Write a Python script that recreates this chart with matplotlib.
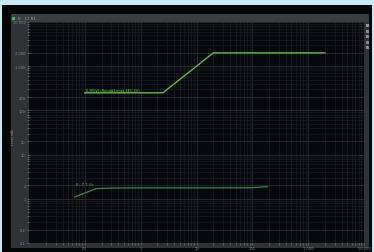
import matplotlib
matplotlib.use("Agg")
import matplotlib.pyplot as plt
from matplotlib.patches import Rectangle

# Data
freq_a = [0.1, 2.5, 20, 2000]
mag_a = [250, 250, 2000, 2000]
label_a = "0.8(kV) (Renda Lenta EEC Ch)"

freq_b = [0.066, 0.16, 0.3, 1, 10, 100, 150, 185]
mag_b = [1.1, 1.7, 1.75, 1.77, 1.77, 1.78, 1.85, 1.88]
label_b = "B - 0.1 Hz"

x_ticks = [0.1, 1, 10, 100, 1000, 10000]
x_labels = ["0.1", "1", "10", "100", "1 000", "10 000"]
y_ticks = [0.1, 0.2, 1, 2, 10, 20, 100, 200, 1000, 2000, 10000]
y_labels = ["0.1", "0.2", "1", "2", "10", "20", "100", "200", "1 000", "2 000", "10 000"]

W, H = 374, 253
fig = plt.figure(figsize=(W / 100, H / 100), dpi=100)
fig.patch.set_facecolor("#c6e9f6")

def box(x, y, w, h, color):
    # rectangle in pixel coords, y from top
    fig.patches.append(Rectangle((x / W, 1 - (y + h) / H), w / W, h / H,
                                 transform=fig.transFigure, color=color,
                                 zorder=-5, linewidth=0))

box(2, 6, 370, 247, "#050505")   # window frame
box(11, 15, 358, 234, "#2f3335")  # panel
box(11, 15, 358, 8, "#3a3e40")    # title bar
box(12, 17.5, 3, 3, "#3cc24a")    # green marker
fig.text(18 / W, 1 - 19 / H, "B · 17 R1", color="#9a9a9a", fontsize=2.8, va="center")
for i, c in enumerate(["#9a9a9a", "#8a8a9a", "#a08a9a", "#8a8a8a", "#9a8a9a"]):
    box(365.5, 25 + i * 5.5, 3, 3, c)
fig.text(13.5 / W, 1 - 137 / H, "Level (dB)", color="#c07a8a", fontsize=2.3,
         rotation=90, va="center", ha="center")

ax = fig.add_axes([29 / W, (H - 244) / H, 335 / W, 221 / H])
ax.set_zorder(1)
ax.set_facecolor("#07080d")
ax.set_xscale("log")
ax.set_yscale("log")
ax.set_xlim(0.01, 10000)
ax.set_ylim(0.1, 10000)

ax.grid(True, which="major", color="#2b2d33", linewidth=0.6)
ax.grid(True, which="minor", color="#1b1d23", linewidth=0.5)

ax.plot(freq_a, mag_a, color="#5cc23c", linewidth=1.0)
ax.text(0.105, 265, label_a, color="#6ed24a", fontsize=2.6, va="bottom")
ax.plot(freq_b, mag_b, color="#2f8f3e", linewidth=0.9)
ax.text(0.07, 1.95, label_b, color="#3fae4e", fontsize=2.6, va="bottom")

ax.set_xticks(x_ticks)
ax.set_xticklabels(x_labels)
ax.set_yticks(y_ticks)
ax.set_yticklabels(y_labels)
ax.tick_params(which="both", colors="#8a8a8a", labelsize=2.6, length=1.5, width=0.4, pad=1)
for s in ax.spines.values():
    s.set_visible(False)

fig.savefig("out.png", dpi=100, facecolor=fig.get_facecolor())
